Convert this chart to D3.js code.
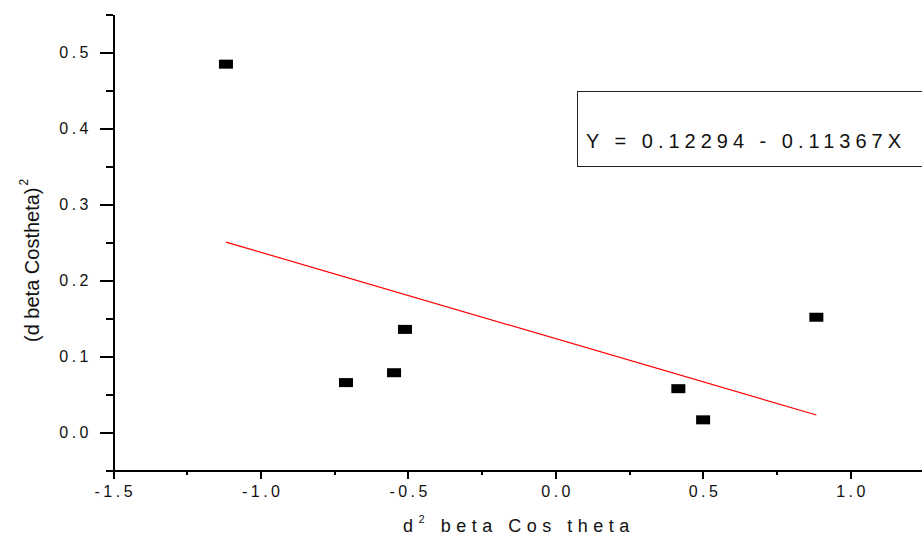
<!DOCTYPE html>
<html>
<head>
<meta charset="utf-8">
<script src="https://cdn.jsdelivr.net/npm/d3@7"></script>
<style>
  body { margin: 0; background: #fff; }
  svg { font-family: "Liberation Sans", Arial, sans-serif; }
</style>
</head>
<body>
<div id="chart"></div>
<script>
// data
const xValues = [-1.117, -0.71, -0.547, -0.51, 0.417, 0.501, 0.885]
const yValues = [0.484, 0.065, 0.078, 0.135, 0.057, 0.016, 0.151]
const fitIntercept = 0.12294
const fitSlope = -0.11367
const xTicks = [-1.5, -1.0, -0.5, 0.0, 0.5, 1.0]
const yTicks = [0.0, 0.1, 0.2, 0.3, 0.4, 0.5]
const xMinor = [-1.25, -0.75, -0.25, 0.25, 0.75]
const yMinor = [-0.05, 0.05, 0.15, 0.25, 0.35, 0.45, 0.55]
const fitLabel = "Y = 0.12294 - 0.11367X"

const width = 922
const height = 537

const svg = d3.select("#chart")
    .append("svg")
    .attr("width", width)
    .attr("height", height)

const x = d3.scaleLinear().domain([-1.5, 1.25]).range([113, 924])
const y = d3.scaleLinear().domain([-0.05, 0.55]).range([470, 14])

// plain hyphen for negatives, like the original
const fmt = d => d.toFixed(1)

// y axis
const yAxis = svg.append("g")
    .attr("transform", "translate(" + x(-1.5) + ",0)")
    .call(d3.axisLeft(y).tickValues(yTicks).tickSize(13).tickSizeOuter(0).tickFormat(fmt))
svg.append("g")
    .attr("transform", "translate(" + x(-1.5) + ",0)")
    .call(d3.axisLeft(y).tickValues(yMinor).tickSize(7).tickSizeOuter(0).tickFormat(""))
    .select(".domain").remove()

// x axis
const xAxis = svg.append("g")
    .attr("transform", "translate(0," + y(-0.05) + ")")
    .call(d3.axisBottom(x).tickValues(xTicks).tickSize(9).tickSizeOuter(0).tickFormat(fmt))
svg.append("g")
    .attr("transform", "translate(0," + y(-0.05) + ")")
    .call(d3.axisBottom(x).tickValues(xMinor).tickSize(5).tickSizeOuter(0).tickFormat(""))
    .select(".domain").remove()

svg.selectAll(".domain, .tick line")
    .attr("stroke", "#000")
    .attr("stroke-width", 2)
    .attr("shape-rendering", "crispEdges")

yAxis.selectAll(".tick text")
    .attr("x", -21)
    .attr("font-size", 16)
    .attr("letter-spacing", "3.5px")
    .attr("fill", "#111")
    .attr("font-family", "Liberation Sans, Arial, sans-serif")
xAxis.selectAll(".tick text")
    .attr("y", 16)
    .attr("dx", "1.75px")
    .attr("font-size", 16)
    .attr("letter-spacing", "3.5px")
    .attr("fill", "#111")
    .attr("font-family", "Liberation Sans, Arial, sans-serif")

// fit line
const xExt = d3.extent(xValues)
svg.append("line")
    .attr("x1", x(xExt[0]))
    .attr("y1", y(fitIntercept + fitSlope * xExt[0]))
    .attr("x2", x(xExt[1]))
    .attr("y2", y(fitIntercept + fitSlope * xExt[1]))
    .attr("stroke", "#ff0000")
    .attr("stroke-width", 1.2)

// points
svg.selectAll("rect.pt")
    .data(xValues.map((d, i) => [d, yValues[i]]))
    .enter()
    .append("rect")
    .attr("class", "pt")
    .attr("x", d => x(d[0]) - 7)
    .attr("y", d => y(d[1]) - 4.5)
    .attr("width", 14)
    .attr("height", 9)
    .attr("fill", "#000")

// equation box
svg.append("rect")
    .attr("x", 577.5)
    .attr("y", 91.5)
    .attr("width", 360)
    .attr("height", 75)
    .attr("fill", "#fff")
    .attr("stroke", "#222")
    .attr("stroke-width", 1)
svg.append("text")
    .attr("x", 586)
    .attr("y", 148)
    .attr("font-size", 20)
    .attr("letter-spacing", "5px")
    .attr("fill", "#111")
    .text(fitLabel)

// axis titles
const xTitle = svg.append("text")
    .attr("x", 403)
    .attr("y", 532)
    .attr("font-size", 18)
    .attr("letter-spacing", "5.5px")
    .attr("fill", "#111")
xTitle.append("tspan").text("d")
xTitle.append("tspan").attr("font-size", 11).attr("dy", -9).text("2")
xTitle.append("tspan").attr("dy", 9).text(" beta Cos theta")

const yTitle = svg.append("text")
    .attr("transform", "translate(39,342) rotate(-90)")
    .attr("font-size", 20)
    .attr("fill", "#111")
yTitle.append("tspan").text("(d beta Costheta)")
yTitle.append("tspan").attr("font-size", 12).attr("dy", -11).attr("dx", 2).text("2")
</script>
</body>
</html>
